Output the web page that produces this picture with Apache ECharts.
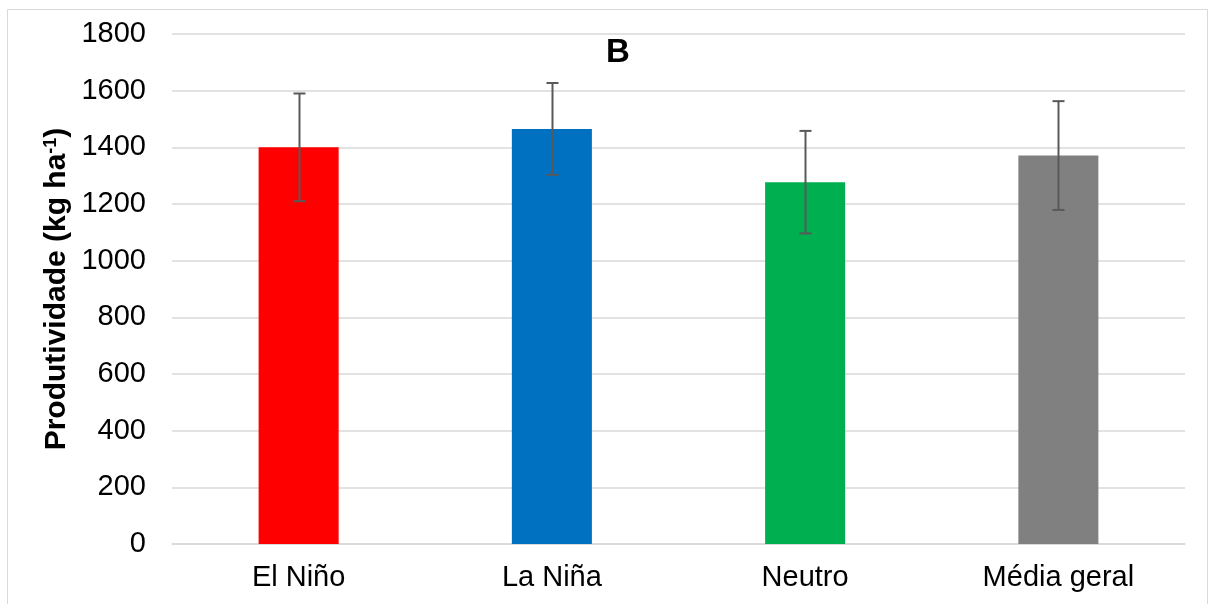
<!DOCTYPE html>
<html>
<head>
<meta charset="utf-8">
<script src="https://cdn.jsdelivr.net/npm/echarts@6/dist/echarts.min.js"></script>
<style>html,body{margin:0;padding:0;background:#fff}#c{width:1213px;height:604px}</style>
</head>
<body>
<div id="c"></div>
<script>
const categories = ['El Niño', 'La Niña', 'Neutro', 'Média geral'];
const values = [1400, 1465, 1277, 1371];
const errors = [190, 162, 181, 192];
const colors = ['#FF0000', '#0070C0', '#00B050', '#808080'];
const yTicks = [0, 200, 400, 600, 800, 1000, 1200, 1400, 1600, 1800];

const chart = echarts.init(document.getElementById('c'));
const font = '"Liberation Sans", Arial, sans-serif';
chart.setOption({
  animation: false,
  backgroundColor: '#fff',
  title: {
    text: 'B', left: 606, top: 36, padding: 0,
    textStyle: { fontFamily: font, fontSize: 33, fontWeight: 'bold', color: '#000' }
  },
  graphic: [{
    type: 'rect', shape: { x: 7.5, y: 9.5, width: 1200, height: 600 },
    style: { fill: 'none', stroke: '#D9D9D9', lineWidth: 1 }, silent: true
  }],
  grid: { left: 172, right: 28, top: 34, bottom: 60, containLabel: false },
  xAxis: {
    type: 'category', data: categories,
    axisLine: { show: true, lineStyle: { color: '#D9D9D9', width: 1.5 } },
    axisTick: { show: false },
    axisLabel: { fontFamily: font, fontSize: 29, color: '#000', margin: 19 }
  },
  yAxis: {
    type: 'value', min: yTicks[0], max: yTicks[yTicks.length - 1], interval: 200,
    name: 'Produtividade (kg ha{sup|-1})',
    nameLocation: 'middle', nameGap: 100, nameRotate: 90, nameMoveOverlap: false,
    nameTextStyle: {
      fontFamily: font, fontSize: 30, fontWeight: 'bold', color: '#000',
      rich: { sup: { fontFamily: font, fontSize: 18, fontWeight: 'bold', color: '#000', verticalAlign: 'top', padding: [0, 0, 12, 0] } }
    },
    axisLine: { show: false }, axisTick: { show: false },
    axisLabel: { fontFamily: font, fontSize: 29, color: '#000', margin: 26, formatter: v => String(v) },
    splitLine: { lineStyle: { color: '#D9D9D9', width: 1.5 } }
  },
  series: [{
    type: 'bar', barWidth: '31.6%',
    data: values.map((v, i) => ({ value: v, itemStyle: { color: colors[i] } }))
  }, {
    type: 'custom',
    data: values.map((v, i) => [i, v - errors[i], v + errors[i]]),
    renderItem: function (params, api) {
      const lo = api.coord([api.value(0), api.value(1)]);
      const hi = api.coord([api.value(0), api.value(2)]);
      const x = Math.round(lo[0]) + 0.5;
      const hw = 6;
      const st = { stroke: '#595959', lineWidth: 2 };
      return {
        type: 'group', children: [
          { type: 'line', shape: { x1: x, y1: lo[1], x2: x, y2: hi[1] }, style: st },
          { type: 'line', shape: { x1: x - hw, y1: lo[1], x2: x + hw, y2: lo[1] }, style: st },
          { type: 'line', shape: { x1: x - hw, y1: hi[1], x2: x + hw, y2: hi[1] }, style: st }
        ]
      };
    },
    z: 10
  }]
});
</script>
</body>
</html>
